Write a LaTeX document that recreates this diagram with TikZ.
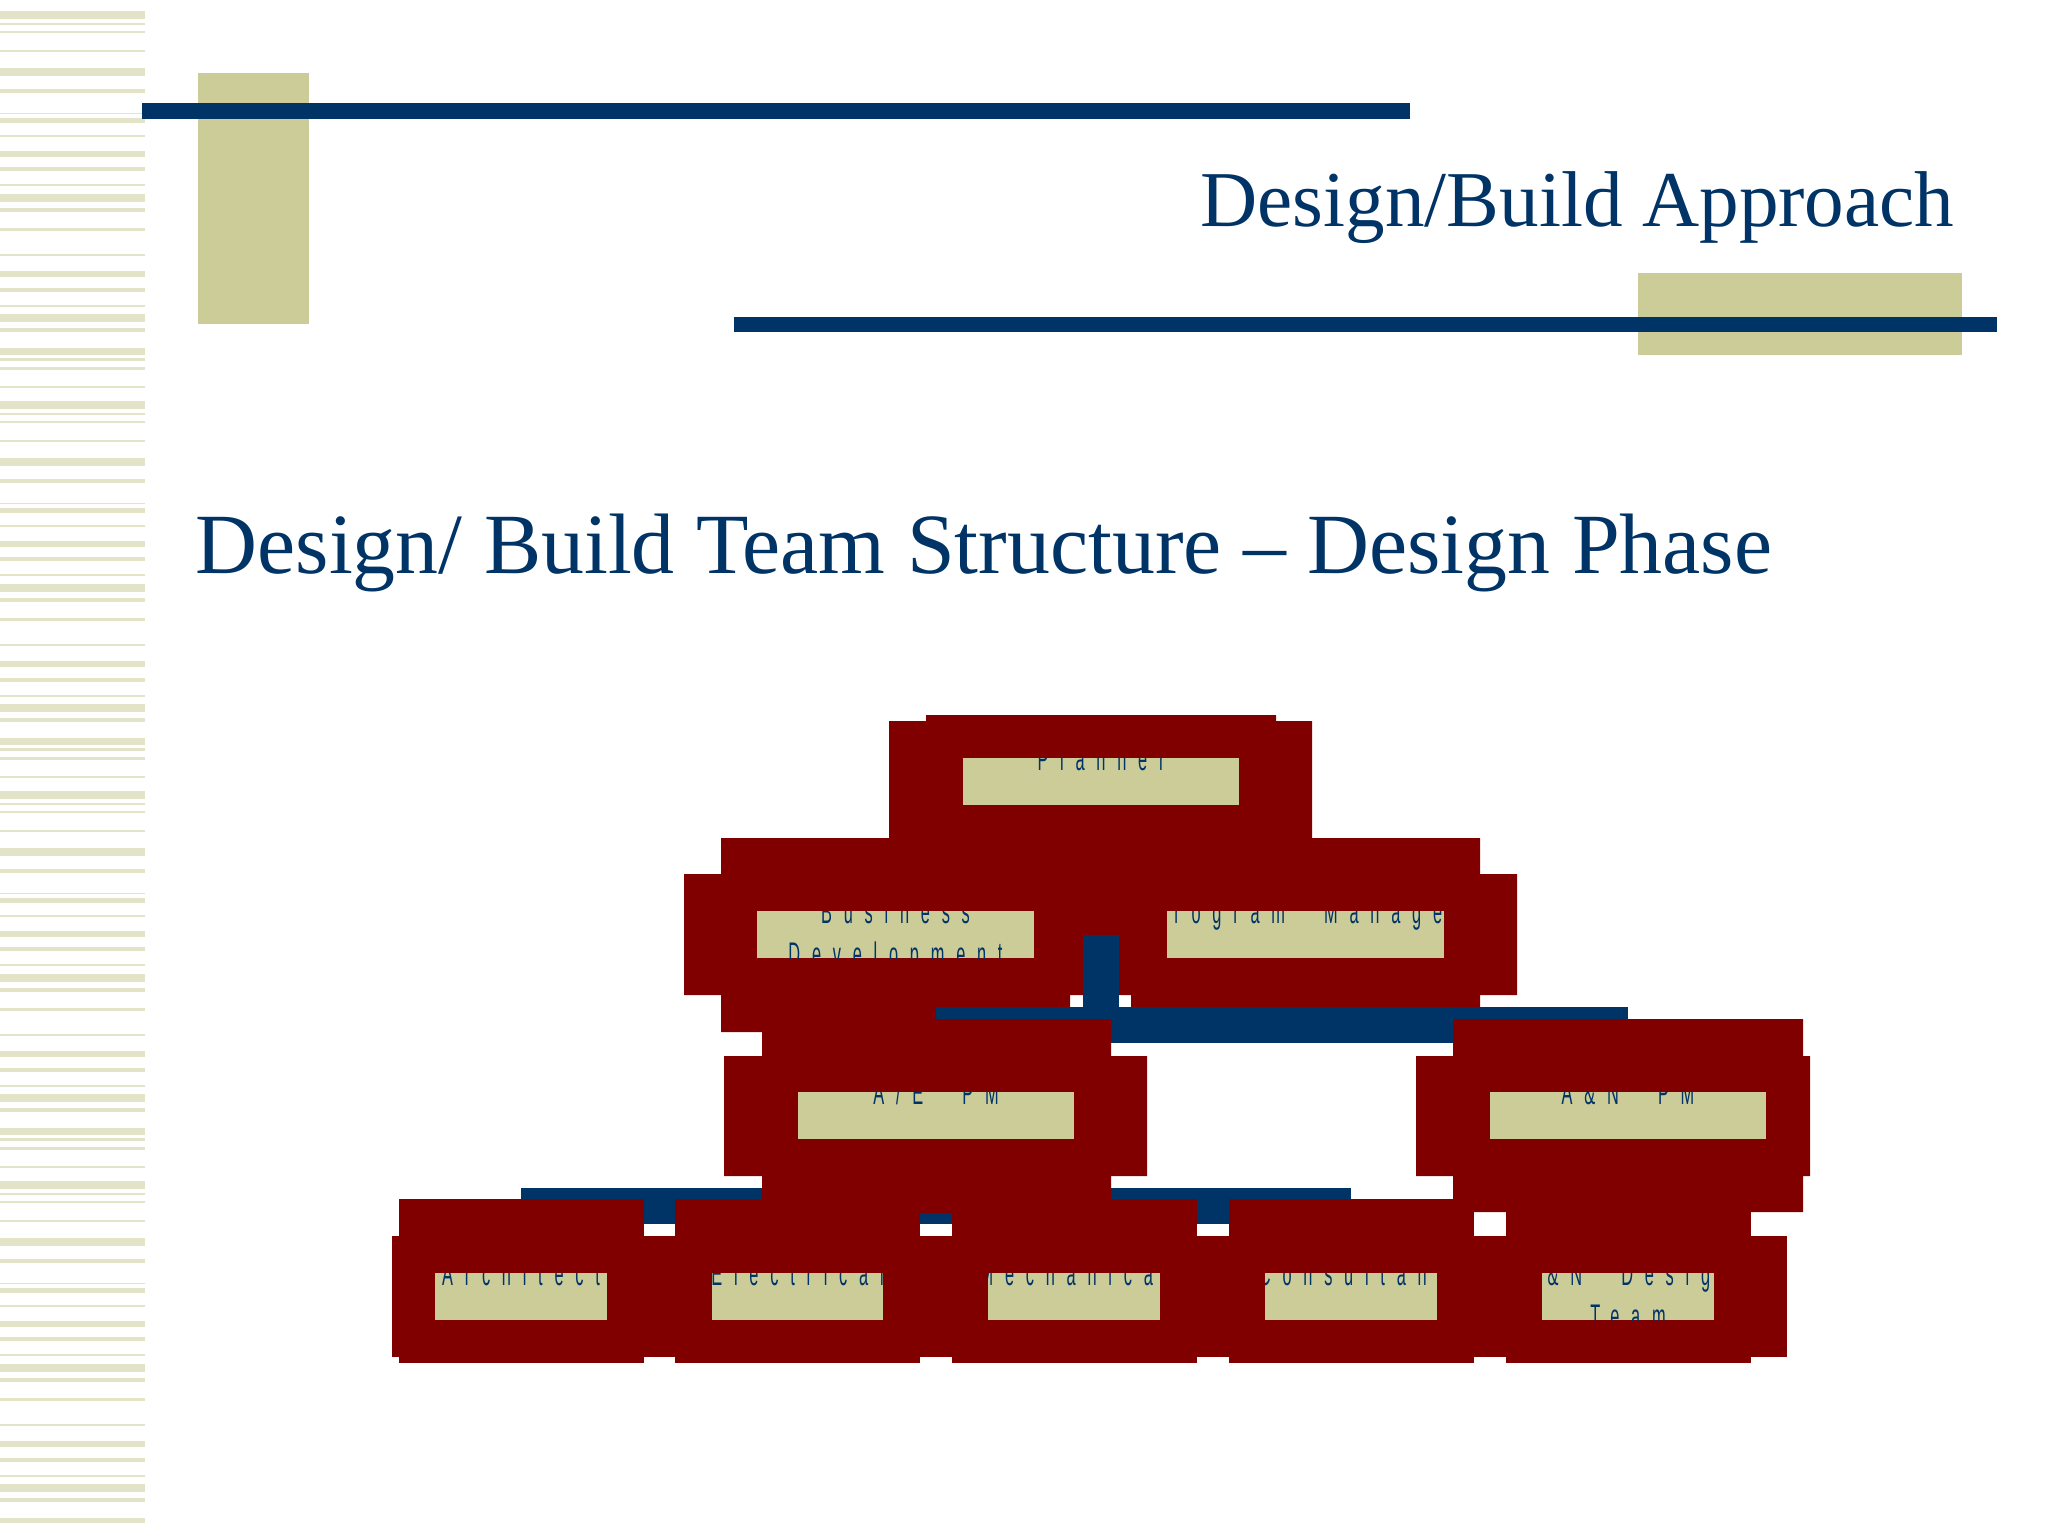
\documentclass[tikz,border=0pt]{standalone}
\usepackage{fontspec}
\setmainfont{Liberation Serif}
\newfontfamily\orgfont[FakeStretch=0.5,LetterSpace=36,WordSpace=2.4]{Liberation Sans}
\usepackage{tikz}
\usetikzlibrary{calc}
\usepackage{xcolor}

\definecolor{slideblue}{RGB}{0,51,102}
\definecolor{slidekhaki}{RGB}{204,204,153}
\definecolor{boxred}{RGB}{128,0,0}

\tikzset{
  stripe/.style={fill=slidekhaki!55},
  bar/.style={slideblue, line width=0.36cm},
  orgbox/.style={fill=slidekhaki, inner sep=0pt, minimum height=0.47cm, minimum width=#1},
  orgtext/.style={anchor=base, inner sep=0pt, text=slideblue,
    font=\orgfont\fontsize{9.3pt}{12pt}\selectfont},
  lines/.style n args={2}{path picture={
    \node[orgtext] at ([yshift=-0.12cm]path picture bounding box.north) {#1};
    \node[orgtext] at ([yshift=-0.54cm]path picture bounding box.north) {#2};}},
}

\begin{document}
\begin{tikzpicture}[x=0.01cm,y=-0.01cm]
\useasboundingbox (0,0) rectangle (2048,1536);
\fill[white] (0,0) rectangle (2048,1536);
% striped band on the left
\begin{scope}
\clip (0,0) rectangle (145,1522);
\foreach \off in {0,390,780,1170}
  \foreach \a/\b in {11/19,23/25,31/33,50/52,68/76,89/93,113/114,118/123,135/137,
    151/157,167/171,184/186,194/202,208/212,228/231,254/256,271/277,288/292,
    305/307,314/322,328/332,348/355,358/361,367/370,386/388}
    \fill[stripe] (0,\a+\off) rectangle (145,\b+\off);
\end{scope}
% header
\fill[slidekhaki] (198,73) rectangle (309,324);
\fill[slideblue] (142,103) rectangle (1410,119);
\fill[slidekhaki] (1638,273) rectangle (1962,355);
\fill[slideblue] (734,317) rectangle (1997,332);
\node[anchor=base east, inner sep=0pt, text=slideblue, font=\fontsize{22.5pt}{26pt}\selectfont]
  (title) at (1955,226) {Design/Build Approach};
\node[anchor=base west, inner sep=0pt, text=slideblue, font=\fontsize{24.4pt}{28pt}\selectfont]
  (heading) at (195,573) {Design/ Build Team Structure – Design Phase};

% centres of the lower boxes
\coordinate (ae) at (936,1115.5);
\coordinate (an) at (1628,1115.5);
\foreach \n/\x in {arch/521,elec/797.5,mech/1074,cons/1351,andt/1628}
  \coordinate (\n) at (\x,1296.5);
\coordinate (upbar) at (0,1025);
\coordinate (lowbar) at (0,1206);

% planner
\fill[boxred] (926,715) rectangle (1276,880) (889,721) rectangle (1312,842);
\node[orgbox=2.76cm, lines={Planner}{}] (planner) at (1101,781.5) {};
% assistants
\fill[boxred] (721,838) rectangle (1070,1032) (684,874) rectangle (1107,995);
\fill[boxred] (1131,838) rectangle (1480,1032) (1094,874) rectangle (1517,995);
\node[orgbox=2.77cm, lines={Business}{Development}] (busdev) at (895.5,934.5) {};
\node[orgbox=2.77cm, lines={Program Manager}{}] (progman) at (1305.5,934.5) {};

% links
\coordinate (asst) at ($(busdev)!0.5!(progman)$);
\draw[bar] (asst) -- (asst |- upbar);
\draw[bar] (ae |- upbar) -- (an |- upbar);
\draw[bar] (ae |- upbar) -- (ae) -- (ae |- lowbar);
\draw[bar] (an |- upbar) -- (an) -- (andt);
\draw[bar] (arch |- lowbar) -- (cons |- lowbar);
\foreach \n in {arch,elec,mech,cons}
  \draw[bar] (\n |- lowbar) -- (\n);

% project managers
\fill[boxred] (762,1019) rectangle (1111,1213) (724,1056) rectangle (1147,1176);
\fill[boxred] (1453,1019) rectangle (1803,1212) (1416,1056) rectangle (1810,1176);
\node[orgbox=2.76cm, lines={A/E PM}{}] (aepm) at (ae) {};
\node[orgbox=2.76cm, lines={A\&N PM}{}] (anpm) at (an) {};

% design team
\fill[boxred] (392,1236) rectangle (1787,1357);
\foreach \x in {521,797.5,1074,1351,1628}
  \fill[boxred] (\x-122.5,1199) rectangle (\x+122.5,1363);
\node[orgbox=1.71cm, lines={Architect}{}] (architect) at (arch) {};
\node[orgbox=1.71cm, lines={Electrical}{}] (electrical) at (elec) {};
\node[orgbox=1.71cm, lines={Mechanical}{}] (mechanical) at (mech) {};
\node[orgbox=1.71cm, lines={Consultant}{}] (consultant) at (cons) {};
\node[orgbox=1.71cm, lines={A\&N Design}{Team}] (andesign) at (andt) {};
\end{tikzpicture}
\end{document}
